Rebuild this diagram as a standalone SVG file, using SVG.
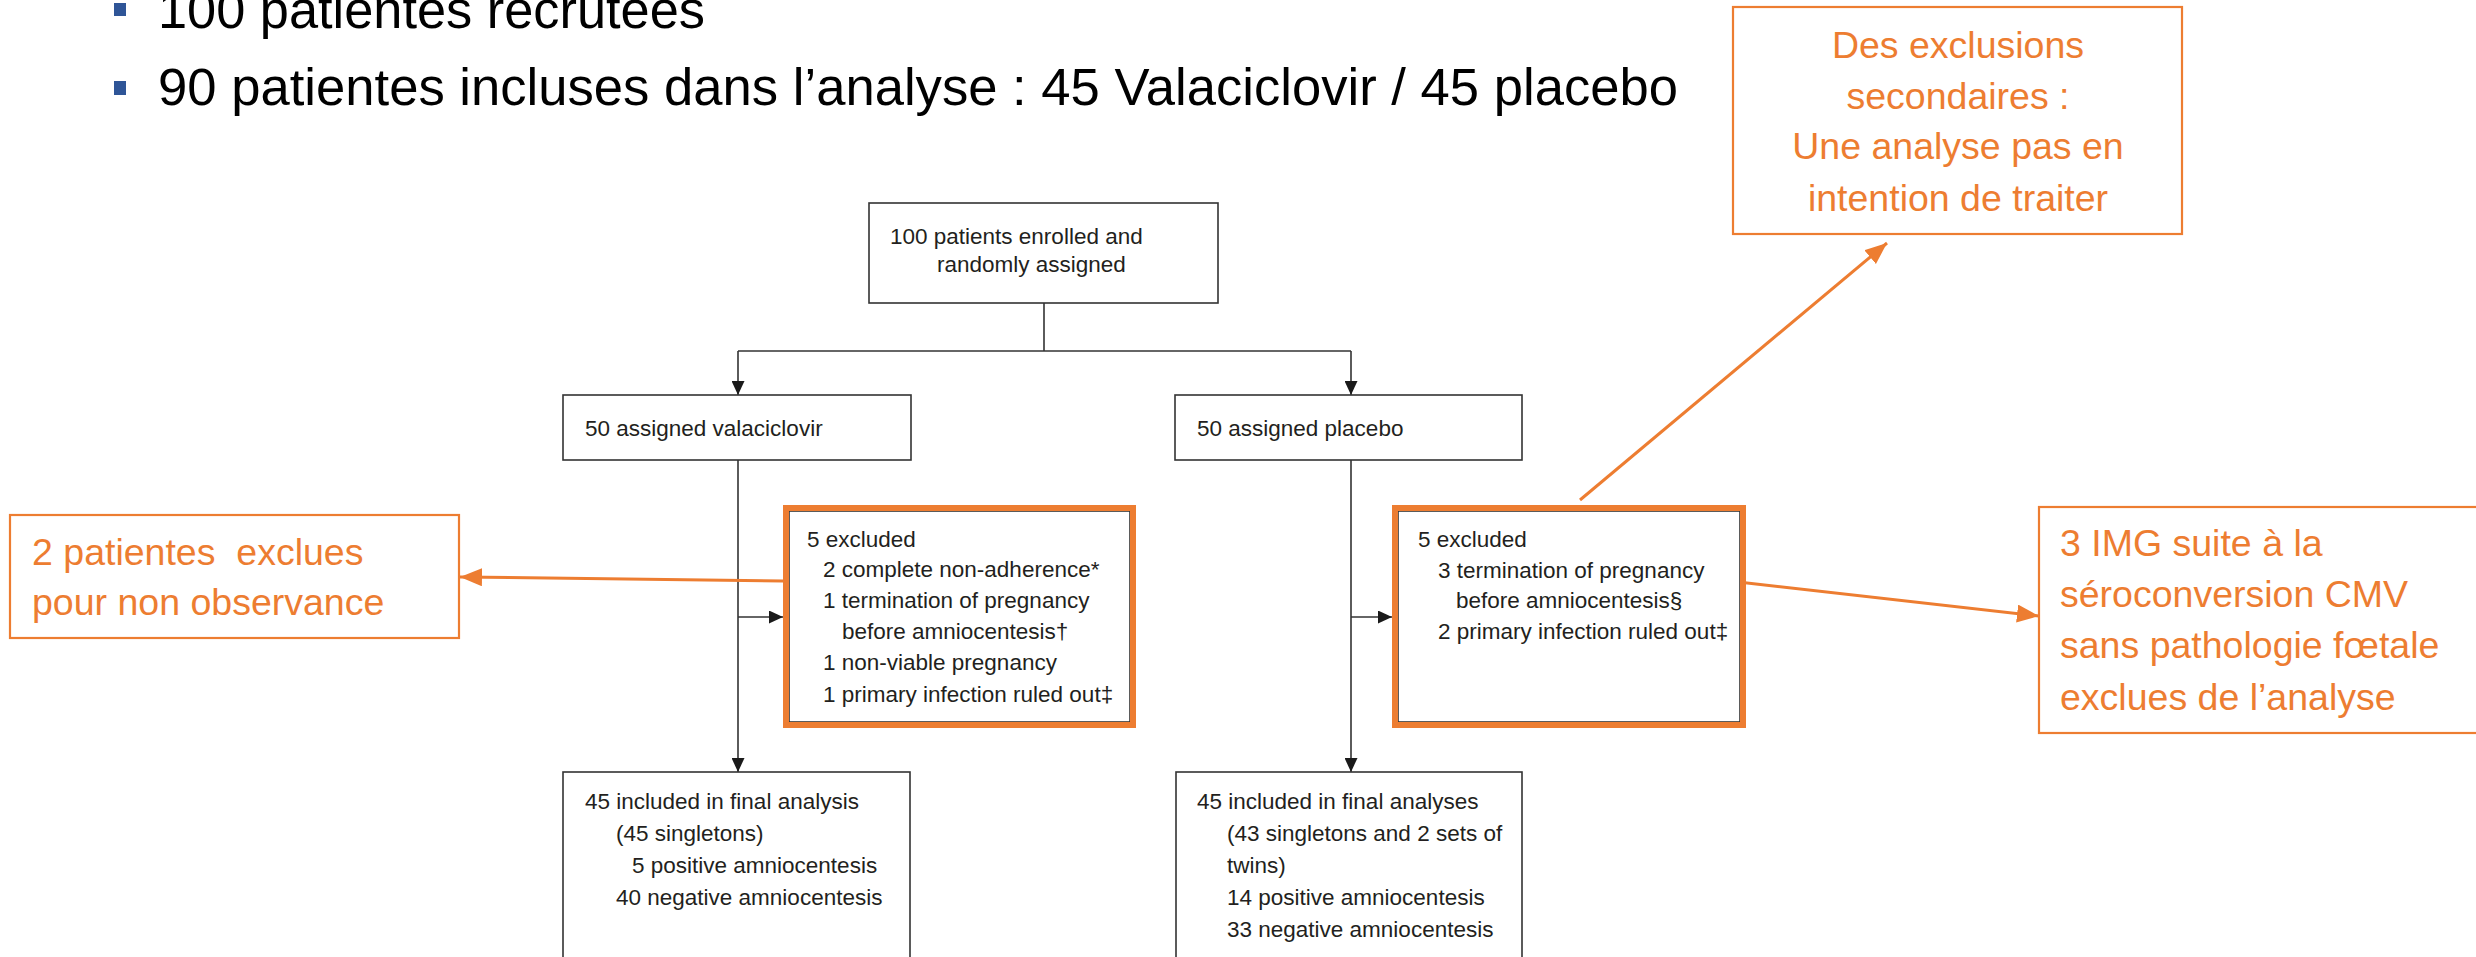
<svg xmlns="http://www.w3.org/2000/svg" width="2476" height="957" viewBox="0 0 2476 957">
<defs>
<style>
.lt{font-family:"Liberation Sans",Arial,sans-serif;font-size:22.5px;fill:#231F20}
.ot{font-family:"Liberation Sans",Arial,sans-serif;font-size:37.5px;fill:#ED7D31}
.hd{font-family:"Liberation Sans",Arial,sans-serif;font-size:51px;fill:#000}
.box{fill:#fff;stroke:#333;stroke-width:1.6}
.obox{fill:none;stroke:#ED7D31;stroke-width:6}
.abox{fill:#fff;stroke:#ED7D31;stroke-width:2.2}
.ln{fill:none;stroke:#333;stroke-width:1.6}
.oln{fill:none;stroke:#ED7D31;stroke-width:3}
</style>
<marker id="ah" markerUnits="userSpaceOnUse" markerWidth="14" markerHeight="13" refX="14" refY="6.5" orient="auto">
<path d="M0,0 L14,6.5 L0,13 z" fill="#1a1a1a"/>
</marker>
<marker id="oah" markerUnits="userSpaceOnUse" markerWidth="22" markerHeight="18" refX="22" refY="9" orient="auto">
<path d="M0,0 L22,9 L0,18 z" fill="#ED7D31"/>
</marker>
</defs>
<rect width="2476" height="957" fill="#fff"/>

<g id="header">
<rect x="114" y="3" width="12" height="13" fill="#2F5597"/>
<text class="hd" x="158" y="28" textLength="547" lengthAdjust="spacingAndGlyphs">100 patientes recrutées</text>
<rect x="114" y="81" width="12" height="14" fill="#2F5597"/>
<text class="hd" x="158" y="105" textLength="1520" lengthAdjust="spacingAndGlyphs">90 patientes incluses dans l’analyse : 45 Valaciclovir / 45 placebo</text>
</g>

<g id="connectors">
<line class="ln" x1="1044" y1="303" x2="1044" y2="351"/>
<line class="ln" x1="738" y1="351" x2="1351" y2="351"/>
<line class="ln" x1="738" y1="351" x2="738" y2="395" marker-end="url(#ah)"/>
<line class="ln" x1="1351" y1="351" x2="1351" y2="395" marker-end="url(#ah)"/>
<line class="ln" x1="738" y1="460" x2="738" y2="772" marker-end="url(#ah)"/>
<line class="ln" x1="1351" y1="460" x2="1351" y2="772" marker-end="url(#ah)"/>
<line class="ln" x1="738" y1="617" x2="783" y2="617" marker-end="url(#ah)"/>
<line class="ln" x1="1351" y1="617" x2="1392" y2="617" marker-end="url(#ah)"/>
<line class="oln" x1="783" y1="581" x2="460" y2="577" marker-end="url(#oah)"/>
<line class="oln" x1="1580" y1="500" x2="1887" y2="243" marker-end="url(#oah)"/>
<line class="oln" x1="1712" y1="579" x2="2039" y2="616" marker-end="url(#oah)"/>
</g>

<g id="enrolled">
<rect class="box" x="869" y="203" width="349" height="100"/>
<text class="lt" x="890" y="244">100 patients enrolled and</text>
<text class="lt" x="937" y="272">randomly assigned</text>
</g>

<g id="valaciclovir">
<rect class="box" x="563" y="395" width="348" height="65"/>
<text class="lt" x="585" y="436">50 assigned valaciclovir</text>
</g>

<g id="placebo">
<rect class="box" x="1175" y="395" width="347" height="65"/>
<text class="lt" x="1197" y="436">50 assigned placebo</text>
</g>

<g id="excluded-valaciclovir">
<rect class="box" x="789" y="511" width="341" height="211" stroke="#999"/>
<rect class="obox" x="786" y="508" width="347" height="217"/>
<text class="lt" x="807" y="547">5 excluded</text>
<text class="lt" x="823" y="577">2 complete non-adherence*</text>
<text class="lt" x="823" y="608">1 termination of pregnancy</text>
<text class="lt" x="842" y="639">before amniocentesis†</text>
<text class="lt" x="823" y="670">1 non-viable pregnancy</text>
<text class="lt" x="823" y="702">1 primary infection ruled out‡</text>
</g>

<g id="excluded-placebo">
<rect class="box" x="1398" y="511" width="342" height="211" stroke="#999"/>
<rect class="obox" x="1395" y="508" width="348" height="217"/>
<text class="lt" x="1418" y="547">5 excluded</text>
<text class="lt" x="1438" y="578">3 termination of pregnancy</text>
<text class="lt" x="1456" y="608">before amniocentesis§</text>
<text class="lt" x="1438" y="639">2 primary infection ruled out‡</text>
</g>

<g id="final-valaciclovir">
<rect class="box" x="563" y="772" width="347" height="240"/>
<text class="lt" x="585" y="809">45 included in final analysis</text>
<text class="lt" x="616" y="841">(45 singletons)</text>
<text class="lt" x="632" y="873">5 positive amniocentesis</text>
<text class="lt" x="616" y="905">40 negative amniocentesis</text>
</g>

<g id="final-placebo">
<rect class="box" x="1176" y="772" width="346" height="240"/>
<text class="lt" x="1197" y="809">45 included in final analyses</text>
<text class="lt" x="1227" y="841">(43 singletons and 2 sets of</text>
<text class="lt" x="1227" y="873">twins)</text>
<text class="lt" x="1227" y="905">14 positive amniocentesis</text>
<text class="lt" x="1227" y="937">33 negative amniocentesis</text>
</g>

<g id="note-secondary">
<rect class="abox" x="1733" y="7" width="449" height="227"/>
<text class="ot" x="1958" y="58" text-anchor="middle">Des exclusions</text>
<text class="ot" x="1958" y="109" text-anchor="middle">secondaires :</text>
<text class="ot" x="1958" y="159" text-anchor="middle">Une analyse pas en</text>
<text class="ot" x="1958" y="211" text-anchor="middle">intention de traiter</text>
</g>

<g id="note-nonadherence">
<rect class="abox" x="10" y="515" width="449" height="123"/>
<text class="ot" x="32" y="565" xml:space="preserve">2 patientes  exclues</text>
<text class="ot" x="32" y="615">pour non observance</text>
</g>

<g id="note-img">
<rect class="abox" x="2039" y="507" width="460" height="226"/>
<text class="ot" x="2060" y="556">3 IMG suite à la</text>
<text class="ot" x="2060" y="607">séroconversion CMV</text>
<text class="ot" x="2060" y="658">sans pathologie fœtale</text>
<text class="ot" x="2060" y="710">exclues de l’analyse</text>
</g>
</svg>
